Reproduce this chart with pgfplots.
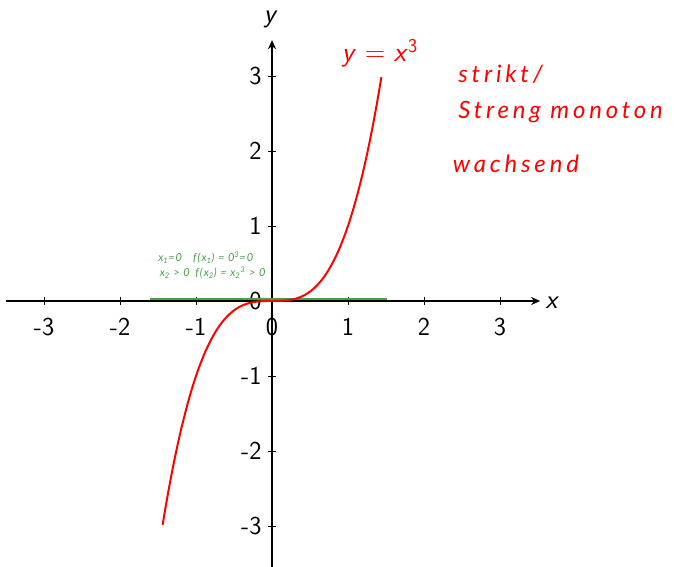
\documentclass[border=0pt]{standalone}
\usepackage{fontspec}
\usepackage{pgfplots}
\pgfplotsset{compat=1.18}
\usetikzlibrary{calc,arrows.meta}
\newfontfamily\hand{Lato}[LetterSpace=16]
\newfontfamily\handsmall{Lato}[LetterSpace=10]
\definecolor{notegreen}{RGB}{70,160,70}

\begin{document}
\begin{tikzpicture}
\begin{axis}[
  scale only axis,
  width=534bp, height=527bp,
  xmin=-3.5, xmax=3.53,
  ymin=-3.55, ymax=3.48,
  axis lines=middle,
  axis line style={line width=1.4pt,-{Stealth[length=9pt,width=8pt]}},
  xtick={-3,-2,-1,0,1,2,3},
  ytick={-3,-2,-1,0,1,2,3},
  hide obscured x ticks=false,
  hide obscured y ticks=false,
  tick style={black,line width=0.7pt},
  major tick length=8pt,
  /pgf/number format/assume math mode=true,
  tick label style={font=\sffamily\fontsize{26}{30}\selectfont},
  xticklabel style={yshift=-10pt},
  yticklabel style={xshift=-3pt},
  clip=false,
]
\coordinate (O) at (axis cs:0,0);

% horizontal reference line
\addplot[notegreen, line width=1.4pt] coordinates {(-1.6,0.025) (1.51,0.025)};

% y = x^3
\addplot[red, line width=2pt, smooth] coordinates {
  (-1.44,-2.986) (-1.38,-2.628) (-1.32,-2.300) (-1.26,-2.000) (-1.20,-1.728)
  (-1.14,-1.482) (-1.08,-1.260) (-1.02,-1.061) (-0.96,-0.885) (-0.90,-0.729)
  (-0.84,-0.593) (-0.78,-0.475) (-0.72,-0.373) (-0.66,-0.287) (-0.60,-0.216)
  (-0.54,-0.157) (-0.48,-0.111) (-0.42,-0.074) (-0.36,-0.047) (-0.30,-0.027)
  (-0.24,-0.014) (-0.18,-0.006) (-0.12,-0.002) (-0.06,0.000) (0,0)
  (0.06,0.000) (0.12,0.002) (0.18,0.006) (0.24,0.014) (0.30,0.027)
  (0.36,0.047) (0.42,0.074) (0.48,0.111) (0.54,0.157) (0.60,0.216)
  (0.66,0.287) (0.72,0.373) (0.78,0.475) (0.84,0.593) (0.90,0.729)
  (0.96,0.885) (1.02,1.061) (1.08,1.260) (1.14,1.482) (1.20,1.728)
  (1.26,2.000) (1.32,2.300) (1.38,2.628) (1.44,2.986)
};

% axis names
\node[font=\sffamily\itshape\fontsize{27}{30}\selectfont, anchor=center, inner sep=0pt] at (axis cs:3.68,-0.02) {x};
\node[font=\sffamily\itshape\fontsize{27}{30}\selectfont, anchor=center, inner sep=0pt] at (axis cs:-0.03,3.76) {y};

% curve label
\node[red, font=\sffamily\fontsize{28}{32}\selectfont, anchor=base] at (axis cs:1.42,3.2)
  {\textit{y} = \textit{x}\textsuperscript{3}};

% notes
\node[red, font=\hand\itshape\fontsize{24}{28}\selectfont, anchor=base west, inner sep=0pt] at (axis cs:2.45,2.92) {strikt/};
\node[red, font=\hand\itshape\fontsize{24}{28}\selectfont, anchor=base west, inner sep=0pt] at (axis cs:2.45,2.44) {Streng monoton};
\node[red, font=\hand\itshape\fontsize{24}{28}\selectfont, anchor=base west, inner sep=0pt] at (axis cs:2.38,1.72) {wachsend};

\node[notegreen, font=\handsmall\itshape\fontsize{11}{12}\selectfont, anchor=base west, inner sep=0pt] at (axis cs:-1.50,0.53)
  {x\textsubscript{1}=0\quad f(x\textsubscript{1}) = 0\textsuperscript{3}=0};
\node[notegreen, font=\handsmall\itshape\fontsize{11}{12}\selectfont, anchor=base west, inner sep=0pt] at (axis cs:-1.48,0.33)
  {x\textsubscript{2} > 0\enspace f(x\textsubscript{2}) = x\textsubscript{2}\textsuperscript{3} > 0};
\end{axis}
\pgfresetboundingbox
\path ($(O)+(-272bp,-266bp)$) rectangle ($(O)+(403bp,301bp)$);
\end{tikzpicture}
\end{document}
